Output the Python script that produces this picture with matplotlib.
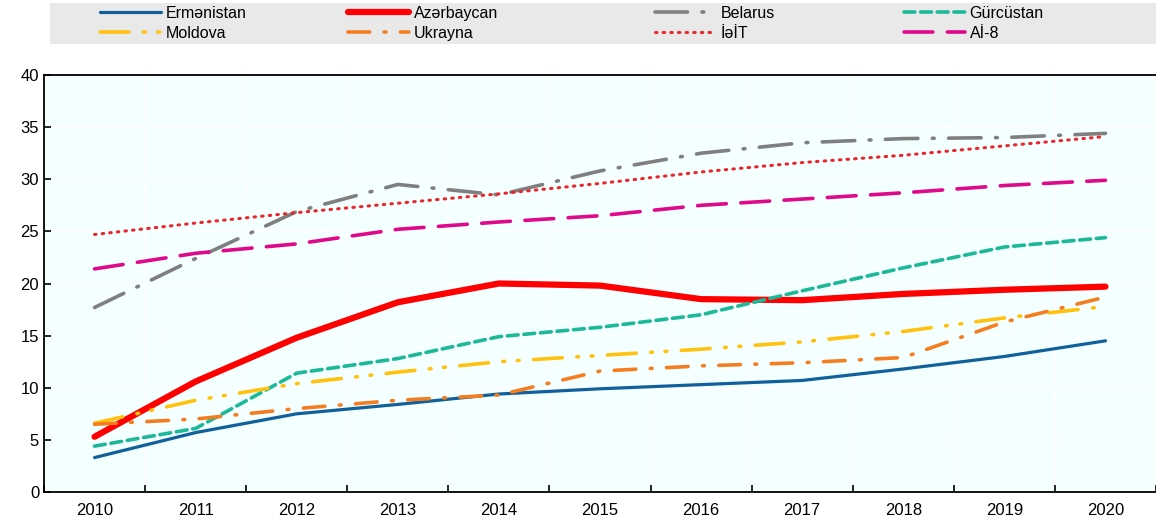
import numpy as np
import matplotlib.pyplot as plt
from matplotlib.lines import Line2D
from matplotlib.patches import Rectangle

plt.rcParams['font.family'] = ['Liberation Sans', 'DejaVu Sans']

years = ['2010', '2011', '2012', '2013', '2014', '2015', '2016', '2017', '2018', '2019', '2020']

armenia = [3.3, 5.7, 7.5, 8.4, 9.4, 9.9, 10.3, 10.7, 11.8, 13.0, 14.5]
azerbaijan = [5.3, 10.6, 14.8, 18.2, 20.0, 19.8, 18.5, 18.4, 19.0, 19.4, 19.7]
belarus = [17.7, 22.4, 26.9, 29.5, 28.5, 30.8, 32.5, 33.5, 33.9, 34.0, 34.4]
georgia = [4.4, 6.1, 11.4, 12.8, 14.9, 15.8, 17.0, 19.3, 21.5, 23.5, 24.4]
moldova = [6.6, 8.8, 10.4, 11.5, 12.5, 13.1, 13.7, 14.4, 15.4, 16.7, 17.8]
ukraine = [6.5, 7.0, 8.0, 8.8, 9.3, 11.6, 12.1, 12.4, 12.9, 16.3, 18.7]
oecd = [24.7, 25.8, 26.8, 27.7, 28.6, 29.6, 30.7, 31.6, 32.3, 33.2, 34.1]
eu8 = [21.4, 22.9, 23.8, 25.2, 25.9, 26.5, 27.5, 28.1, 28.7, 29.4, 29.9]

labels = ['Ermənistan', 'Azərbaycan', 'Belarus', 'Gürcüstan',
          'Moldova', 'Ukrayna', 'İəİT', 'Aİ-8']

W, H = 1156, 523
fig = plt.figure(figsize=(W / 100, H / 100), dpi=100)
ax = fig.add_axes([44 / W, 31 / H, 1 - 44 / W, (492 - 75) / H])
ax.set_facecolor('#F4FFFF')

x = np.arange(len(years))

# (data, colour, width, dashes)
series = [
    (armenia, '#10609B', 2.3, '-'),
    (azerbaijan, '#FF0000', 4.5, '-'),
    (belarus, '#7F7F7F', 2.6, (0, (9, 4, 0.5, 4))),
    (georgia, '#1BB99A', 2.6, (0, (3, 1.6))),
    (moldova, '#FFC20E', 2.6, (0, (8, 4, 0.5, 3.5, 0.5, 4))),
    (ukraine, '#F47D20', 2.6, (0, (6, 4, 0.5, 4))),
    (oecd, '#E8262C', 2.2, (0, (0.5, 2))),
    (eu8, '#E0088B', 2.6, (0, (8, 4))),
]

handles = []
for (vals, col, lw, ls), lab in zip(series, labels):
    ax.plot(x, vals, color=col, lw=lw, linestyle=ls, dash_capstyle='round',
            solid_capstyle='round', label=lab)
    handles.append(Line2D([], [], color=col, lw=lw, linestyle=ls,
                          dash_capstyle='round', solid_capstyle='round'))

ax.set_xlim(-0.5, len(years) - 0.5)
ax.set_ylim(0, 40)
ax.set_yticks(range(0, 41, 5))
ax.set_xticks(x)
ax.set_xticklabels(years)
ax.set_xticks(np.arange(-0.5, len(years), 1), minor=True)
ax.tick_params(axis='x', which='major', length=0, labelsize=12, pad=8)
ax.tick_params(axis='x', which='minor', length=5, direction='in', width=1.2)
ax.tick_params(axis='y', length=5, direction='in', width=1.2, labelsize=12)

ax.grid(True, axis='y', color='white', lw=1.2)
ax.grid(True, axis='x', which='minor', color='white', lw=1.2)
ax.set_axisbelow(True)
for s in ['left', 'bottom', 'top']:
    ax.spines[s].set_linewidth(1.3)
ax.spines['right'].set_visible(False)

# legend band
fig.patches.append(Rectangle((50 / W, 1 - 44 / H), 1 - 50 / W, 41 / H,
                             transform=fig.transFigure, facecolor='#E9E9E9',
                             edgecolor='none', zorder=0))

col_x = [100, 348, 655, 904]
for c in range(4):
    leg = fig.legend([handles[c], handles[c + 4]], [labels[c], labels[c + 4]],
                     loc='upper left', bbox_to_anchor=(col_x[c] / W, 1 - 6 / H),
                     frameon=False, handlelength=3.8, handletextpad=0.3,
                     fontsize=11.5, borderaxespad=0, borderpad=0,
                     labelspacing=0.3)

fig.savefig('out.png', dpi=100)
